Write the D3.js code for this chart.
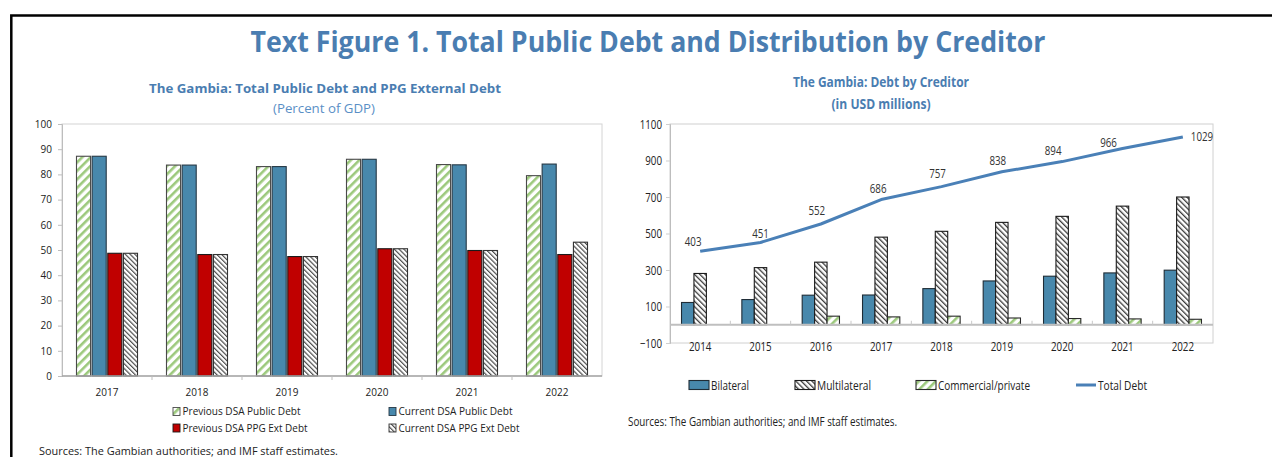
<!DOCTYPE html>
<html>
<head>
<meta charset="utf-8">
<script src="https://cdn.jsdelivr.net/npm/d3@7"></script>
<style>
  body { margin: 0; background: #fff; }
  svg { display: block; }
  text { font-family: "Open Sans", "Noto Sans", sans-serif; }
</style>
</head>
<body>
<svg id="chart" width="1272" height="457"></svg>
<script>
// ---- Left panel: public debt, percent of GDP ----
const gdpYears = ["2017", "2018", "2019", "2020", "2021", "2022"];
const prevPublicDebt = [87.2, 83.7, 83.1, 86.0, 83.9, 79.5];
const currPublicDebt = [87.2, 83.7, 83.1, 86.0, 83.8, 84.1];
const prevPPGDebt = [48.7, 48.2, 47.4, 50.5, 49.8, 48.2];
const currPPGDebt = [48.7, 48.2, 47.4, 50.5, 49.8, 53.1];
const gdpTicks = [0, 10, 20, 30, 40, 50, 60, 70, 80, 90, 100];

// ---- Right panel: debt by creditor, USD millions ----
const creditorYears = ["2014", "2015", "2016", "2017", "2018", "2019", "2020", "2021", "2022"];
const bilateral = [122, 138, 162, 163, 198, 240, 266, 284, 299];
const multilateral = [281, 313, 343, 480, 512, 561, 594, 650, 700];
const commercial = [0, 0, 47, 43, 47, 37, 34, 32, 30];
const totalDebt = [403, 451, 552, 686, 757, 838, 894, 966, 1029];
const usdTicks = [-100, 100, 300, 500, 700, 900, 1100];

// label nudges for the total-debt values (dx, dy from the point)
const totalLabelNudge = [[-7, -9.5], [0, -8.5], [-4, -13], [-3, -10.5], [-4, -12.5], [-4, -11], [-9, -11], [-14, -6]];

const svg = d3.select("#chart");
const defs = svg.append("defs");

function stripePattern(id, size, stripe, color, angle) {
  const p = defs.append("pattern")
    .attr("id", id)
    .attr("patternUnits", "userSpaceOnUse")
    .attr("width", size).attr("height", size)
    .attr("patternTransform", `rotate(${angle})`);
  p.append("rect").attr("width", size).attr("height", size).attr("fill", "#fff");
  p.append("rect").attr("width", stripe).attr("height", size).attr("fill", color);
}
stripePattern("greenStripe", 6, 2.6, "#9cc97c", 45);
stripePattern("grayHatch", 3.4, 1.2, "#4d4d4d", -45);
stripePattern("multiHatch", 3.8, 1.3, "#3a3a3a", -45);

function fitWidth(sel, w) {
  sel.attr("textLength", w).attr("lengthAdjust", "spacingAndGlyphs");
}
function squeeze(sel, f) {
  sel.each(function () {
    const w = this.getComputedTextLength();
    d3.select(this).attr("textLength", w * f).attr("lengthAdjust", "spacingAndGlyphs");
  });
}

const BLUE_TITLE = "#4a7db1";
const BAR_BLUE = "#4888ac";
const RED = "#c00000";

// outer frame
svg.append("path")
  .attr("d", "M11.3,457 V15.5 H1272")
  .attr("fill", "none").attr("stroke", "#000").attr("stroke-width", 2.5);

// main title
svg.append("text")
  .attr("x", 648).attr("y", 52)
  .attr("text-anchor", "middle")
  .attr("font-size", 28).attr("font-weight", 700)
  .attr("fill", BLUE_TITLE)
  .text("Text Figure 1. Total Public Debt and Distribution by Creditor")
  .call(fitWidth, 795);

// ================= LEFT PANEL =================
const L = { x0: 62, x1: 602, y0: 124, y1: 376 };

svg.append("text")
  .attr("x", 325).attr("y", 93)
  .attr("text-anchor", "middle")
  .attr("font-size", 12.5).attr("font-weight", 700).attr("fill", BLUE_TITLE)
  .text("The Gambia: Total Public Debt and PPG External Debt")
  .call(fitWidth, 352);
svg.append("text")
  .attr("x", 324).attr("y", 113)
  .attr("text-anchor", "middle")
  .attr("font-size", 12).attr("fill", "#5a8fc6")
  .text("(Percent of GDP)")
  .call(fitWidth, 102);

const xL = d3.scaleBand().domain(gdpYears).range([L.x0, L.x1]).paddingInner(0.322).paddingOuter(0.161);
const yL = d3.scaleLinear().domain([0, 100]).range([L.y1, L.y0]);

const seriesL = [
  { name: "Previous DSA Public Debt", values: prevPublicDebt, fill: "url(#greenStripe)", stroke: "#4a4a4a" },
  { name: "Current DSA Public Debt", values: currPublicDebt, fill: BAR_BLUE, stroke: "#263845" },
  { name: "Previous DSA PPG Ext Debt", values: prevPPGDebt, fill: RED, stroke: "#1a1a1a" },
  { name: "Current DSA PPG Ext Debt", values: currPPGDebt, fill: "url(#grayHatch)", stroke: "#333" }
];
const xLs = d3.scaleBand().domain(seriesL.map(s => s.name)).range([0, xL.bandwidth()]).paddingInner(0.1);

// plot frame
svg.append("rect")
  .attr("x", L.x0).attr("y", L.y0).attr("width", L.x1 - L.x0).attr("height", L.y1 - L.y0)
  .attr("fill", "none").attr("stroke", "#d4d4d4");

// y axis
const yAxisL = svg.append("g")
  .attr("transform", `translate(${L.x0},0)`)
  .call(d3.axisLeft(yL).tickValues(gdpTicks).tickFormat(d3.format("d")).tickSize(4).tickPadding(6));
yAxisL.select(".domain").attr("stroke", "#bdbdbd");
yAxisL.selectAll(".tick line").attr("stroke", "#bdbdbd");
yAxisL.selectAll(".tick text").attr("font-size", 10).attr("fill", "#222")
  .attr("font-family", "'Open Sans', sans-serif");

// bars
seriesL.forEach(s => {
  svg.append("g").selectAll("rect")
    .data(s.values.map((v, i) => ({ year: gdpYears[i], v })))
    .join("rect")
    .attr("x", d => xL(d.year) + xLs(s.name))
    .attr("y", d => yL(d.v))
    .attr("width", xLs.bandwidth())
    .attr("height", d => yL(0) - yL(d.v))
    .attr("fill", s.fill)
    .attr("stroke", s.stroke).attr("stroke-width", 1.1);
});

// x axis baseline and category separators
svg.append("line")
  .attr("x1", L.x0).attr("x2", L.x1).attr("y1", yL(0)).attr("y2", yL(0))
  .attr("stroke", "#a6a6a6").attr("stroke-width", 1.6);
svg.append("g").selectAll("line")
  .data(gdpYears.slice(1))
  .join("line")
  .attr("x1", d => xL(d) - xL.step() * xL.paddingInner() / 2)
  .attr("x2", d => xL(d) - xL.step() * xL.paddingInner() / 2)
  .attr("y1", yL(0)).attr("y2", yL(0) + 4)
  .attr("stroke", "#bdbdbd");
svg.append("g").selectAll("text")
  .data(gdpYears)
  .join("text")
  .attr("x", d => xL(d) + xL.bandwidth() / 2)
  .attr("y", 396)
  .attr("text-anchor", "middle")
  .attr("font-size", 10).attr("fill", "#222")
  .text(d => d);

// legend
const legL = [
  { s: seriesL[0], x: 173, y: 411.5 },
  { s: seriesL[1], x: 389, y: 411.5 },
  { s: seriesL[2], x: 173, y: 428 },
  { s: seriesL[3], x: 389, y: 428 }
];
const legLWidths = [118, 114, 125, 121];
legL.forEach((d, i) => {
  svg.append("rect")
    .attr("x", d.x).attr("y", d.y - 4).attr("width", 7).attr("height", 8)
    .attr("fill", d.s.fill).attr("stroke", d.s.stroke).attr("stroke-width", 0.9);
  svg.append("text")
    .attr("x", d.x + 9.5).attr("y", d.y + 3.6)
    .attr("font-size", 10.5).attr("fill", "#222")
    .text(d.s.name)
    .call(fitWidth, legLWidths[i]);
});

svg.append("text")
  .attr("x", 39).attr("y", 454.5)
  .attr("font-size", 10.5).attr("fill", "#222")
  .text("Sources: The Gambian authorities; and IMF staff estimates.")
  .call(fitWidth, 299);

// ================= RIGHT PANEL =================
const R = { x0: 670, x1: 1213, y0: 124, y1: 343 };

svg.append("text")
  .attr("x", 881).attr("y", 87)
  .attr("text-anchor", "middle")
  .attr("font-size", 15).attr("font-weight", 700).attr("fill", BLUE_TITLE)
  .text("The Gambia: Debt by Creditor")
  .call(fitWidth, 176);
svg.append("text")
  .attr("x", 881).attr("y", 109)
  .attr("text-anchor", "middle")
  .attr("font-size", 15).attr("font-weight", 700).attr("fill", BLUE_TITLE)
  .text("(in USD millions)")
  .call(fitWidth, 99);

const xR = d3.scaleBand().domain(creditorYears).range([R.x0, R.x1]).paddingInner(0.382).paddingOuter(0.191);
const yR = d3.scaleLinear().domain([-100, 1100]).range([R.y1, R.y0]);

const seriesR = [
  { name: "Bilateral", values: bilateral, fill: BAR_BLUE, stroke: "#1f2c36" },
  { name: "Multilateral", values: multilateral, fill: "url(#multiHatch)", stroke: "#1a1a1a" },
  { name: "Commercial/private", values: commercial, fill: "url(#greenStripe)", stroke: "#2a2a2a" }
];
const xRs = d3.scaleBand().domain(seriesR.map(s => s.name)).range([0, xR.bandwidth()]).paddingInner(0);

svg.append("rect")
  .attr("x", R.x0).attr("y", R.y0).attr("width", R.x1 - R.x0).attr("height", R.y1 - R.y0)
  .attr("fill", "none").attr("stroke", "#d0d0d0");

const yAxisR = svg.append("g")
  .attr("transform", `translate(${R.x0},0)`)
  .call(d3.axisLeft(yR).tickValues(usdTicks).tickFormat(d3.format("d")).tickSize(4).tickPadding(4));
yAxisR.select(".domain").attr("stroke", "#bdbdbd");
yAxisR.selectAll(".tick line").attr("stroke", "#cfcfcf");
yAxisR.selectAll(".tick text").attr("font-size", 12.5).attr("fill", "#222")
  .attr("font-family", "'Open Sans', sans-serif")
  .call(squeeze, 0.78);

seriesR.forEach(s => {
  svg.append("g").selectAll("rect")
    .data(s.values.map((v, i) => ({ year: creditorYears[i], v })).filter(d => d.v > 0))
    .join("rect")
    .attr("x", d => xR(d.year) + xRs(s.name))
    .attr("y", d => yR(d.v))
    .attr("width", xRs.bandwidth())
    .attr("height", d => yR(0) - yR(d.v))
    .attr("fill", s.fill)
    .attr("stroke", s.stroke).attr("stroke-width", 1.1);
});

// zero line with category separators
svg.append("line")
  .attr("x1", R.x0).attr("x2", R.x1).attr("y1", yR(0)).attr("y2", yR(0))
  .attr("stroke", "#bfbfbf").attr("stroke-width", 1.8);
svg.append("g").selectAll("line")
  .data(creditorYears.slice(1))
  .join("line")
  .attr("x1", d => xR(d) - xR.step() * xR.paddingInner() / 2)
  .attr("x2", d => xR(d) - xR.step() * xR.paddingInner() / 2)
  .attr("y1", yR(0) - 4).attr("y2", yR(0))
  .attr("stroke", "#c8c8c8");

svg.append("g").selectAll("text")
  .data(creditorYears)
  .join("text")
  .attr("x", d => xR(d) + xR.bandwidth() / 2)
  .attr("y", 350.5)
  .attr("text-anchor", "middle")
  .attr("font-size", 12.5).attr("fill", "#222")
  .text(d => d)
  .call(squeeze, 0.78);

// total debt line
const cx = (d, i) => xR(creditorYears[i]) + xR.bandwidth() / 2;
svg.append("path")
  .datum(totalDebt)
  .attr("d", d3.line().x(cx).y(d => yR(d)))
  .attr("fill", "none")
  .attr("stroke", "#4a80b7").attr("stroke-width", 3)
  .attr("stroke-linejoin", "round").attr("stroke-linecap", "butt");

svg.append("g").selectAll("text")
  .data(totalDebt)
  .join("text")
  .attr("x", (d, i) => i < totalLabelNudge.length ? cx(d, i) + totalLabelNudge[i][0] : cx(d, i) + 8)
  .attr("y", (d, i) => (i < totalLabelNudge.length ? yR(d) + totalLabelNudge[i][1] : yR(d)) + 4.3)
  .attr("text-anchor", (d, i) => i < totalLabelNudge.length ? "middle" : "start")
  .attr("font-size", 12.5).attr("fill", "#333")
  .text(d => d)
  .call(squeeze, 0.78);

// legend
const legR = [
  { name: "Bilateral", kind: "rect", s: seriesR[0], x: 689, w: 38 },
  { name: "Multilateral", kind: "rect", s: seriesR[1], x: 795, w: 54 },
  { name: "Commercial/private", kind: "rect", s: seriesR[2], x: 916, w: 92 },
  { name: "Total Debt", kind: "line", x: 1076, w: 49 }
];
const legRY = 385;
legR.forEach(d => {
  if (d.kind === "rect") {
    svg.append("rect")
      .attr("x", d.x).attr("y", legRY - 4.5).attr("width", 20).attr("height", 9)
      .attr("fill", d.s.fill).attr("stroke", d.s.stroke).attr("stroke-width", 1.1);
  } else {
    svg.append("line")
      .attr("x1", d.x).attr("x2", d.x + 20).attr("y1", legRY).attr("y2", legRY)
      .attr("stroke", "#4a80b7").attr("stroke-width", 3);
  }
  svg.append("text")
    .attr("x", d.x + 22).attr("y", legRY + 4.5)
    .attr("font-size", 13).attr("fill", "#222")
    .text(d.name)
    .call(fitWidth, d.w);
});

svg.append("text")
  .attr("x", 628).attr("y", 426)
  .attr("font-size", 12).attr("fill", "#222")
  .text("Sources: The Gambian authorities; and IMF staff estimates.")
  .call(fitWidth, 269);
</script>
</body>
</html>
